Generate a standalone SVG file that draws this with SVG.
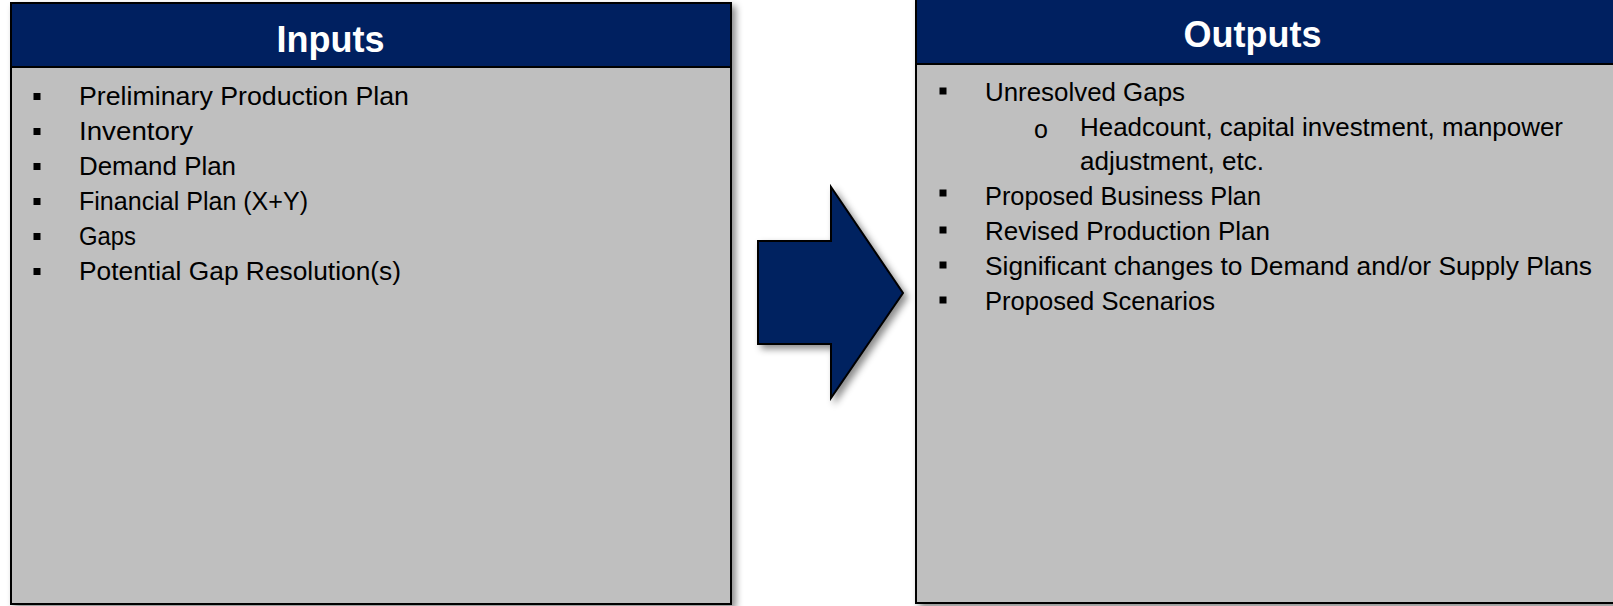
<svg xmlns="http://www.w3.org/2000/svg" width="1613" height="606" viewBox="0 0 1613 606">
<defs>
<filter id="sh" x="-10%" y="-10%" width="130%" height="130%">
<feDropShadow dx="4" dy="4" stdDeviation="3.5" flood-color="#000" flood-opacity="0.45"/>
</filter>
<style>
.body{fill:#BFBFBF;stroke:#000;stroke-width:2}
.head{fill:#002060;stroke:#000;stroke-width:2}
.title{font-family:"Liberation Sans",Arial,sans-serif;font-weight:bold;font-size:36px;fill:#fff;text-anchor:middle}
.item{font-family:"Liberation Sans",Arial,sans-serif;font-size:26.5px;fill:#000}
.sub{font-family:"Liberation Sans",Arial,sans-serif;font-size:25px;fill:#000}
.bul{fill:#000}
.arrow{fill:#002060;stroke:#000;stroke-width:2}
</style>
</defs>
<rect width="1613" height="606" fill="#fff"/>

<g id="inputs">
<rect class="body" x="11" y="3" width="720" height="601" filter="url(#sh)"/>
<rect class="head" x="11" y="3" width="720" height="64"/>
<text class="title" x="330.5" y="52">Inputs</text>
<rect class="bul" x="33.5" y="93" width="7" height="7"/>
<rect class="bul" x="33.5" y="128" width="7" height="7"/>
<rect class="bul" x="33.5" y="163" width="7" height="7"/>
<rect class="bul" x="33.5" y="198" width="7" height="7"/>
<rect class="bul" x="33.5" y="233" width="7" height="7"/>
<rect class="bul" x="33.5" y="268" width="7" height="7"/>
<text class="item" x="79" y="105" textLength="330" lengthAdjust="spacingAndGlyphs">Preliminary Production Plan</text>
<text class="item" x="79" y="140" textLength="114" lengthAdjust="spacingAndGlyphs">Inventory</text>
<text class="item" x="79" y="175" textLength="157" lengthAdjust="spacingAndGlyphs">Demand Plan</text>
<text class="item" x="79" y="210" textLength="229" lengthAdjust="spacingAndGlyphs">Financial Plan (X+Y)</text>
<text class="item" x="79" y="245" textLength="57" lengthAdjust="spacingAndGlyphs">Gaps</text>
<text class="item" x="79" y="280" textLength="322" lengthAdjust="spacingAndGlyphs">Potential Gap Resolution(s)</text>
</g>

<g id="outputs">
<rect class="body" x="916" y="-3" width="710" height="606" filter="url(#sh)"/>
<rect class="head" x="916" y="-3" width="710" height="67"/>
<text class="title" x="1252.5" y="47">Outputs</text>
<rect class="bul" x="939.5" y="87.5" width="7" height="7"/>
<rect class="bul" x="939.5" y="189.5" width="7" height="7"/>
<rect class="bul" x="939.5" y="226.5" width="7" height="7"/>
<rect class="bul" x="939.5" y="261.5" width="7" height="7"/>
<rect class="bul" x="939.5" y="296.5" width="7" height="7"/>
<text class="item" x="985" y="101" textLength="200" lengthAdjust="spacingAndGlyphs">Unresolved Gaps</text>
<text class="sub" x="1034" y="137.5">o</text>
<text class="item" x="1080" y="135.5" textLength="483" lengthAdjust="spacingAndGlyphs">Headcount, capital investment, manpower</text>
<text class="item" x="1080" y="170" textLength="184" lengthAdjust="spacingAndGlyphs">adjustment, etc.</text>
<text class="item" x="985" y="204.5" textLength="276" lengthAdjust="spacingAndGlyphs">Proposed Business Plan</text>
<text class="item" x="985" y="240" textLength="285" lengthAdjust="spacingAndGlyphs">Revised Production Plan</text>
<text class="item" x="985" y="275" textLength="607" lengthAdjust="spacingAndGlyphs">Significant changes to Demand and/or Supply Plans</text>
<text class="item" x="985" y="309.5" textLength="230" lengthAdjust="spacingAndGlyphs">Proposed Scenarios</text>
</g>

<g id="connectors">
<polygon class="arrow" filter="url(#sh)" points="758,241 831,241 831,187 903,293 831,398 831,344 758,344"/>
</g>
</svg>
